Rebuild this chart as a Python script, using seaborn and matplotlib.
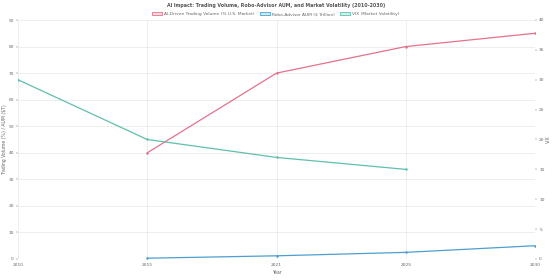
import numpy as np
import pandas as pd
import matplotlib
matplotlib.use("Agg")
import matplotlib.pyplot as plt
from matplotlib.patches import Patch
import seaborn as sns

years = ["2010", "2015", "2021", "2025", "2030"]
ai_volume = [np.nan, 40, 70, 80, 85]
robo_aum = [np.nan, 0.3, 1.2, 2.5, 5.0]
vix = [30, 20, 17, 15, np.nan]

labels = ["AI-Driven Trading Volume (% U.S. Market)",
          "Robo-Advisor AUM ($ Trillion)",
          "VIX (Market Volatility)"]
colors = ["#e4728b", "#4c9fd1", "#5fbfad"]

sns.set_theme(style="white")
plt.rcParams['font.family'] = ['DejaVu Sans']

df = pd.DataFrame({"pos": np.arange(len(years)), "year": years,
                   "ai": ai_volume, "robo": robo_aum, "vix": vix})

fig = plt.figure(figsize=(5.52, 2.8), dpi=100)
ax = fig.add_axes([18/552, 1 - 259/280, (535-18)/552, (259-20)/280])
ax2 = ax.twinx()

sns.lineplot(data=df.dropna(subset=["ai"]), x="pos", y="ai", ax=ax, color=colors[0],
             lw=0.9, marker="o", markersize=1.8, markeredgewidth=0)
sns.lineplot(data=df.dropna(subset=["robo"]), x="pos", y="robo", ax=ax, color=colors[1],
             lw=0.9, marker="o", markersize=1.8, markeredgewidth=0)
sns.lineplot(data=df.dropna(subset=["vix"]), x="pos", y="vix", ax=ax2, color=colors[2],
             lw=0.9, marker="o", markersize=1.8, markeredgewidth=0)

ax.set_xlim(0, len(years) - 1)
ax.set_ylim(0, 90)
ax2.set_ylim(0, 40)
ax.set_yticks(np.arange(0, 91, 10))
ax2.set_yticks(np.arange(0, 41, 5))
ax.set_xticks(df["pos"])
ax.set_xticklabels(years)

for a in (ax, ax2):
    a.tick_params(labelsize=3.2, colors="#666666", length=1.5, width=0.3, pad=1.5)
    for s in a.spines.values():
        s.set_visible(False)
ax.grid(True, color="#e8e8e8", lw=0.5)
ax2.grid(False)

ax.set_xlabel("Year", fontsize=3.3, color="#666666", labelpad=2)
ax.set_ylabel("Trading Volume (%) / AUM ($T)", fontsize=3.3, color="#666666", labelpad=1)
ax2.set_ylabel("VIX", fontsize=3.3, color="#666666", labelpad=1)

fig.text(0.5, 1 - 5/280, "AI Impact: Trading Volume, Robo-Advisor AUM, and Market Volatility (2010-2030)",
         ha="center", va="center", fontsize=3.4, color="#555555", fontweight="bold")

handles = [Patch(facecolor=matplotlib.colors.to_rgba(c, 0.25), edgecolor=c, lw=0.6) for c in colors]
fig.legend(handles, labels, loc="center", bbox_to_anchor=(0.5, 1 - 14/280), ncol=3,
           frameon=False, fontsize=3.2, handlelength=2.2, handleheight=0.8,
           handletextpad=0.5, columnspacing=1.2, labelcolor="#666666")

fig.savefig("out.png", dpi=100)
